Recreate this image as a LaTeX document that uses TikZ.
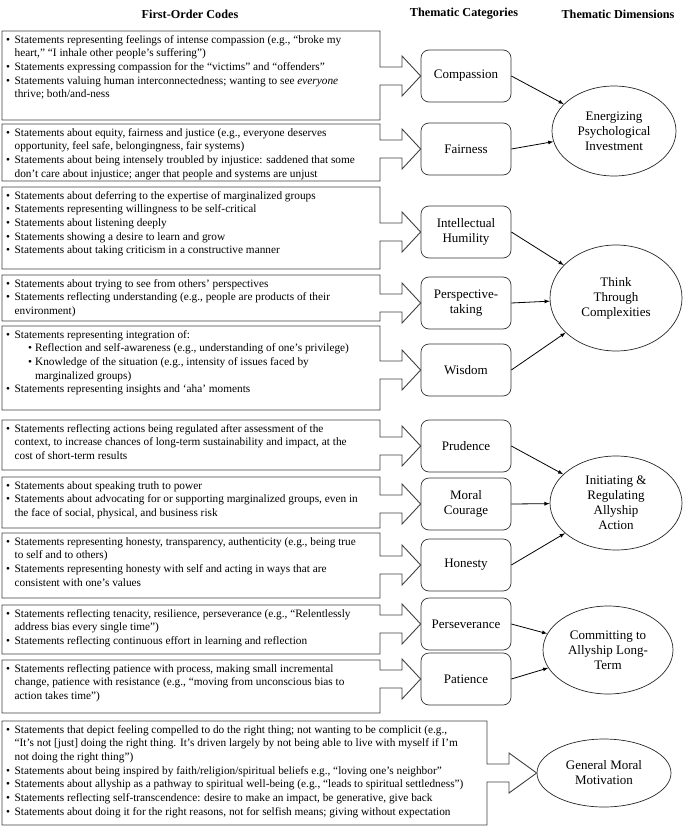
\documentclass[tikz,border=0pt]{standalone}
\usepackage{fontspec}
\setmainfont{Liberation Serif}
\usetikzlibrary{positioning, calc, arrows, shapes.geometric}

\newcommand{\bl}[1]{\mbox{\textbullet\hspace{4.5pt}#1}}
\newcommand{\cl}[1]{\mbox{\phantom{\textbullet}\hspace{4.5pt}#1}}
\newcommand{\sbl}[1]{\mbox{\hspace{22pt}\textbullet\hspace{3pt}#1}}
\newcommand{\scl}[1]{\mbox{\hspace{22pt}\phantom{\textbullet}\hspace{3pt}#1}}

\tikzset{
  codes/.style={anchor=north west, inner sep=0pt, align=left, font=\fontsize{11.3}{13.7}\selectfont},
  callout/.style={draw=black!75, line width=0.9pt, fill=white},
  cat/.style={draw=black!80, rounded corners=8pt, minimum width=90pt, minimum height=52pt, align=center, font=\fontsize{13}{15}\selectfont, line width=0.7pt},
  dim/.style={draw=black!85, ellipse, inner sep=0pt, align=center, font=\fontsize{13}{15}\selectfont, line width=0.7pt},
  head/.style={font=\bfseries\fontsize{12.2}{14}\selectfont},
  link/.style={-latex, line width=0.8pt}
}

\begin{document}
\begin{tikzpicture}[x=1pt, y=-1pt]
\useasboundingbox (0,0) rectangle (685,829);

\node[head] (h1) at (190,14) {First-Order Codes};
\node[head] (h2) at (464,14) {Thematic Categories};
\node[head] (h3) at (618,14) {Thematic Dimensions};

\node[cat] (comp) at (466,76) {Compassion};
\node[cat] (fair) at (466,149) {Fairness};
\node[cat] (humi) at (466,232) {Intellectual\\Humility};
\node[cat] (pers) at (466,303) {Perspective-\\taking};
\node[cat] (wisd) at (466,370) {Wisdom};
\node[cat] (prud) at (466,446) {Prudence};
\node[cat] (cour) at (466,504) {Moral\\Courage};
\node[cat] (hone) at (466,565) {Honesty};
\node[cat] (pers2) at (466,624) {Perseverance};
\node[cat] (pati) at (466,679) {Patience};

\node[dim, minimum width=124pt, minimum height=90pt] (ener) at (614,131) {Energizing\\Psychological\\Investment};
\node[dim, minimum width=132pt, minimum height=106pt] (thin) at (616,298) {Think\\Through\\Complexities};
\node[dim, minimum width=132pt, minimum height=94pt] (init) at (616,503) {Initiating \&\\Regulating\\Allyship\\Action};
\node[dim, minimum width=130pt, minimum height=88pt] (comm) at (608,650) {Committing to\\Allyship Long-\\Term};
\node[dim, minimum width=134pt, minimum height=68pt] (gene) at (604,773) {General Moral\\Motivation};

\foreach \t/\b/\r/\m/\c in {31/120/380/76/comp, 124/181/380/149/fair, 187/269/380/232/humi,
  275/321/380/303/pers, 326/410/380/370/wisd, 420/470/380/446/prud, 477/528/380/504/cour,
  533/598/380/565/hone, 605/654/380/624/pers2, 660/713/380/679/pati, 721/825/487/773/gene}
  \draw[callout] (2,\t) -- (\r,\t) -- (\r,\m-9) -- (\r+22,\m-9) -- (\r+22,\m-20) -- (\c.west)
    -- (\r+22,\m+20) -- (\r+22,\m+9) -- (\r,\m+9) -- (\r,\b) -- (2,\b) -- cycle;

\node[codes] (c1) at (6,35) {\bl{Statements representing feelings of intense compassion (e.g., “broke my}\\
  \cl{heart,” “I inhale other people’s suffering”)}\\
  \bl{Statements expressing compassion for the “victims” and “offenders”}\\
  \bl{Statements valuing human interconnectedness; wanting to see \emph{everyone}}\\
  \cl{thrive; both/and-ness}};
\node[codes] (c2) at (6,128) {\bl{Statements about equity, fairness and justice (e.g., everyone deserves}\\
  \cl{opportunity, feel safe, belongingness, fair systems)}\\
  \bl{Statements about being intensely troubled by injustice: saddened that some}\\
  \cl{don’t care about injustice; anger that people and systems are unjust}};
\node[codes] (c3) at (6,191) {\bl{Statements about deferring to the expertise of marginalized groups}\\
  \bl{Statements representing willingness to be self-critical}\\
  \bl{Statements about listening deeply}\\
  \bl{Statements showing a desire to learn and grow}\\
  \bl{Statements about taking criticism in a constructive manner}};
\node[codes] (c4) at (6,279) {\bl{Statements about trying to see from others’ perspectives}\\
  \bl{Statements reflecting understanding (e.g., people are products of their}\\
  \cl{environment)}};
\node[codes] (c5) at (6,330) {\bl{Statements representing integration of:}\\
  \sbl{Reflection and self-awareness (e.g., understanding of one’s privilege)}\\
  \sbl{Knowledge of the situation (e.g., intensity of issues faced by}\\
  \scl{marginalized groups)}\\
  \bl{Statements representing insights and ‘aha’ moments}};
\node[codes] (c6) at (6,424) {\bl{Statements reflecting actions being regulated after assessment of the}\\
  \cl{context, to increase chances of long-term sustainability and impact, at the}\\
  \cl{cost of short-term results}};
\node[codes] (c7) at (6,481) {\bl{Statements about speaking truth to power}\\
  \bl{Statements about advocating for or supporting marginalized groups, even in}\\
  \cl{the face of social, physical, and business risk}};
\node[codes] (c8) at (6,537) {\bl{Statements representing honesty, transparency, authenticity (e.g., being true}\\
  \cl{to self and to others)}\\
  \bl{Statements representing honesty with self and acting in ways that are}\\
  \cl{consistent with one’s values}};
\node[codes] (c9) at (6,609) {\bl{Statements reflecting tenacity, resilience, perseverance (e.g., “Relentlessly}\\
  \cl{address bias every single time”)}\\
  \bl{Statements reflecting continuous effort in learning and reflection}};
\node[codes] (c10) at (6,664) {\bl{Statements reflecting patience with process, making small incremental}\\
  \cl{change, patience with resistance (e.g., “moving from unconscious bias to}\\
  \cl{action takes time”)}};
\node[codes] (c11) at (6,725) {\bl{Statements that depict feeling compelled to do the right thing; not wanting to be complicit (e.g.,}\\
  \cl{“It’s not [just] doing the right thing. It’s driven largely by not being able to live with myself if I’m}\\
  \cl{not doing the right thing”)}\\
  \bl{Statements about being inspired by faith/religion/spiritual beliefs e.g., “loving one’s neighbor”}\\
  \bl{Statements about allyship as a pathway to spiritual well-being (e.g., “leads to spiritual settledness”)}\\
  \bl{Statements reflecting self-transcendence: desire to make an impact, be generative, give back}\\
  \bl{Statements about doing it for the right reasons, not for selfish means; giving without expectation}};

\draw[link] (comp.east) -- (ener);
\draw[link] (fair.east) -- (ener);
\draw[link] (humi.east) -- (thin);
\draw[link] (pers.east) -- (thin);
\draw[link] (wisd.east) -- (thin);
\draw[link] (prud.east) -- (init);
\draw[link] (cour.east) -- (init);
\draw[link] (hone.east) -- (init);
\draw[link] (pers2.east) -- (comm);
\draw[link] (pati.east) -- (comm);
\end{tikzpicture}
\end{document}
